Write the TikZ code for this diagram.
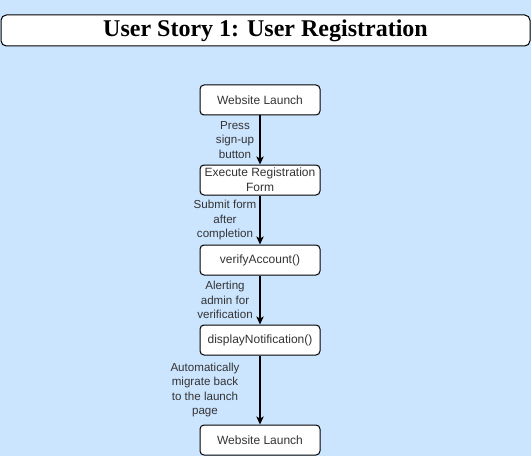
\documentclass[tikz,border=0pt]{standalone}
\usepackage{fontspec}
\setmainfont{Liberation Sans}
\newfontfamily\titlefont{Liberation Serif}
\usetikzlibrary{arrows.meta}
\definecolor{skyback}{HTML}{CCE5FF}
\definecolor{inkgray}{HTML}{333333}

\begin{document}
\begin{tikzpicture}[x=.75pt,y=-.75pt,
  stepbox/.style={draw,line width=.75pt,rounded corners=3pt,fill=white,minimum width=90pt,minimum height=22.5pt,inner sep=1pt,align=center,font=\fontsize{9}{11.25}\selectfont,text=inkgray},
  lbl/.style={align=center,font=\fontsize{8.7}{10.7}\selectfont,text=inkgray,inner sep=0pt},
  flow/.style={-{Stealth[length=6pt,width=5.5pt,inset=1.5pt]},line width=.9pt}]
\fill[skyback] (0,0) rectangle (531,456);
\useasboundingbox (0,0) rectangle (531,456);
% title
\node[draw,line width=.75pt,rounded corners=4pt,fill=white,minimum width=396.75pt,minimum height=23.25pt,inner sep=0pt,font=\titlefont\bfseries\fontsize{18}{21}\selectfont] (title) at (265.5,30.5) {User Story 1: User Registration};
% steps
\node[stepbox] (launch) at (260,100) {Website Launch};
\node[stepbox] (form) at (260,180) {Execute Registration\\Form};
\node[stepbox] (verify) at (260,260) {verifyAccount()};
\node[stepbox] (notify) at (260,340) {displayNotification()};
\node[stepbox] (relaunch) at (260,440) {Website Launch};
% transitions
\draw[flow] (launch) -- node[lbl,xshift=-18.75pt] {Press\\sign-up\\button} (form);
\draw[flow] (form) -- node[lbl,xshift=-26.25pt] {Submit form\\after\\completion} (verify);
\draw[flow] (verify) -- node[lbl,xshift=-26.25pt] {Alerting\\admin for\\verification} (notify);
\draw[flow] (notify) -- node[lbl,xshift=-41.25pt] {Automatically\\migrate back\\to the launch\\page} (relaunch);
\end{tikzpicture}
\end{document}
